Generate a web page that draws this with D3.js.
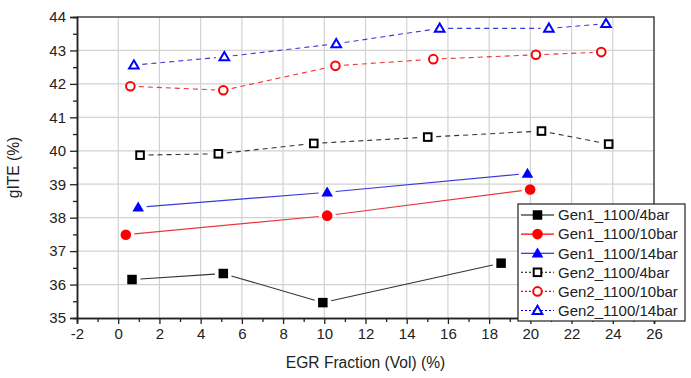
<!DOCTYPE html>
<html>
<head>
<meta charset="utf-8">
<script src="https://cdn.jsdelivr.net/npm/d3@7"></script>
<style>
  body { margin: 0; background: #fff; }
  svg { display: block; font-family: "Liberation Sans", Arial, sans-serif; }
</style>
</head>
<body>
<svg id="chart" width="691" height="378"></svg>
<script>
// data
const gen1_4_x  = [0.67, 5.1, 9.93, 18.58];
const gen1_4_y  = [36.15, 36.33, 35.46, 36.64];
const gen1_10_x = [0.37, 10.14, 19.99];
const gen1_10_y = [37.49, 38.06, 38.84];
const gen1_14_x = [0.97, 10.14, 19.86];
const gen1_14_y = [38.31, 38.76, 39.32];
const gen2_4_x  = [1.06, 4.86, 9.49, 15.02, 20.54, 23.8];
const gen2_4_y  = [39.87, 39.91, 40.22, 40.41, 40.59, 40.2];
const gen2_10_x = [0.59, 5.1, 10.54, 15.29, 20.27, 23.44];
const gen2_10_y = [41.93, 41.81, 42.54, 42.74, 42.87, 42.95];
const gen2_14_x = [0.76, 5.15, 10.58, 15.6, 20.9, 23.67];
const gen2_14_y = [42.56, 42.81, 43.2, 43.66, 43.66, 43.8];

const seriesNames = ['Gen1_1100/4bar','Gen1_1100/10bar','Gen1_1100/14bar',
                     'Gen2_1100/4bar','Gen2_1100/10bar','Gen2_1100/14bar'];
const xTicks = d3.range(-2, 27, 2);
const yTicks = d3.range(35, 45, 1);

const W = 691, H = 378;
const M = {left: 77, right: 654, top: 17, bottom: 318};

const series = [
  {name: seriesNames[0], xs: gen1_4_x,  ys: gen1_4_y,  color: '#000', line: '#333', shape: 'square',   fill: true,  dash: null},
  {name: seriesNames[1], xs: gen1_10_x, ys: gen1_10_y, color: '#f00', line: '#e8383c', shape: 'circle', fill: true,  dash: null},
  {name: seriesNames[2], xs: gen1_14_x, ys: gen1_14_y, color: '#00f', line: '#3a3ad8', shape: 'triangle', fill: true,  dash: null},
  {name: seriesNames[3], xs: gen2_4_x,  ys: gen2_4_y,  color: '#000', line: '#333', shape: 'square',   fill: false, dash: '5,4'},
  {name: seriesNames[4], xs: gen2_10_x, ys: gen2_10_y, color: '#f00', line: '#e8383c', shape: 'circle', fill: false, dash: '5,4'},
  {name: seriesNames[5], xs: gen2_14_x, ys: gen2_14_y, color: '#00f', line: '#3a3ad8', shape: 'triangle', fill: false, dash: '5,4'},
];

const svg = d3.select('#chart');
const x = d3.scaleLinear().domain([-2, 26]).range([M.left, M.right]);
const y = d3.scaleLinear().domain([35, 44]).range([M.bottom, M.top]);

// grid
const grid = svg.append('g').attr('stroke', '#d2d2d2').attr('stroke-width', 1.2);
grid.selectAll('line.gx').data(xTicks.filter(d => d > -2 && d < 26)).join('line')
  .attr('x1', d => x(d)).attr('x2', d => x(d)).attr('y1', M.top).attr('y2', M.bottom);
grid.selectAll('line.gy').data(yTicks.filter(d => d > 35 && d < 44)).join('line')
  .attr('y1', d => y(d)).attr('y2', d => y(d)).attr('x1', M.left).attr('x2', M.right);

// frame (top/right)
svg.append('path')
  .attr('d', `M${M.left},${M.top}H${M.right}V${M.bottom}`)
  .attr('fill', 'none').attr('stroke', '#444').attr('stroke-width', 1.5);

// axes (plain hyphen for negatives, like the original)
const fmt = d => String(d);
const xAxis = svg.append('g').attr('transform', `translate(0,${M.bottom})`)
  .call(d3.axisBottom(x).tickValues(xTicks).tickFormat(fmt).tickSize(6).tickPadding(4));
const xMinor = svg.append('g').attr('transform', `translate(0,${M.bottom})`)
  .call(d3.axisBottom(x).tickValues(d3.range(-1, 26, 2)).tickFormat('').tickSize(4));
const yAxis = svg.append('g').attr('transform', `translate(${M.left},0)`)
  .call(d3.axisLeft(y).tickValues(yTicks).tickFormat(fmt).tickSize(7).tickPadding(4));
const yMinor = svg.append('g').attr('transform', `translate(${M.left},0)`)
  .call(d3.axisLeft(y).tickValues(d3.range(35.5, 44, 1)).tickFormat('').tickSize(4));

[xAxis, xMinor, yAxis, yMinor].forEach(g => {
  g.select('.domain').attr('stroke', '#222').attr('stroke-width', 1.5);
  g.selectAll('.tick line').attr('stroke', '#222').attr('stroke-width', 1.3);
  g.selectAll('.tick text').attr('font-size', 15).attr('fill', '#222')
    .attr('font-family', '"Liberation Sans", Arial, sans-serif');
});

// axis titles
svg.append('text').attr('x', (M.left + M.right) / 2).attr('y', 368)
  .attr('text-anchor', 'middle').attr('font-size', 15.6).attr('fill', '#222')
  .text('EGR Fraction (Vol) (%)');
svg.append('text').attr('transform', `translate(19,${(M.top + M.bottom) / 2}) rotate(-90)`)
  .attr('text-anchor', 'middle').attr('font-size', 15.6).attr('fill', '#222')
  .text('gITE (%)');

// markers
function drawMarker(g, s, cx, cy) {
  const sw = s.fill ? 0 : 2;
  const fill = s.fill ? s.color : '#fff';
  if (s.shape === 'square') {
    const a = s.fill ? 9.5 : 7.6;
    g.append('rect').attr('x', cx - a / 2).attr('y', cy - a / 2).attr('width', a).attr('height', a)
      .attr('fill', fill).attr('stroke', s.color).attr('stroke-width', sw);
  } else if (s.shape === 'circle') {
    g.append('circle').attr('cx', cx).attr('cy', cy).attr('r', s.fill ? 5.3 : 4.3)
      .attr('fill', fill).attr('stroke', s.color).attr('stroke-width', sw);
  } else {
    const w = s.fill ? 5.8 : 4.8, t = s.fill ? 5.8 : 4.8, b = s.fill ? 4.2 : 3.4;
    g.append('path').attr('d', `M${cx},${cy - t}L${cx + w},${cy + b}L${cx - w},${cy + b}Z`)
      .attr('fill', fill).attr('stroke', s.color).attr('stroke-width', sw)
      .attr('stroke-linejoin', 'miter');
  }
}

// lines with a gap at every marker, like the original
const gap = 8.5;
series.forEach(s => {
  const g = svg.append('g');
  const pts = s.xs.map((v, i) => [x(v), y(s.ys[i])]);
  for (let i = 0; i < pts.length - 1; i++) {
    const [x1, y1] = pts[i], [x2, y2] = pts[i + 1];
    const L = Math.hypot(x2 - x1, y2 - y1);
    const ux = (x2 - x1) / L, uy = (y2 - y1) / L;
    g.append('line')
      .attr('x1', x1 + ux * gap).attr('y1', y1 + uy * gap)
      .attr('x2', x2 - ux * gap).attr('y2', y2 - uy * gap)
      .attr('stroke', s.line).attr('stroke-width', 1.1)
      .attr('stroke-dasharray', s.dash);
  }
  pts.forEach(p => drawMarker(g, s, p[0], p[1]));
});

// legend
const lg = svg.append('g').attr('transform', 'translate(518,204)');
lg.append('rect').attr('width', 167).attr('height', 117)
  .attr('fill', '#fff').attr('stroke', '#222').attr('stroke-width', 1.2);
series.forEach((s, i) => {
  const cy = 11 + i * 19.1;
  lg.append('line').attr('x1', 3).attr('x2', 36).attr('y1', cy).attr('y2', cy)
    .attr('stroke', s.color).attr('stroke-width', 1.1)
    .attr('stroke-dasharray', s.dash ? '2,2' : null);
  drawMarker(lg, s, 19.5, cy);
  lg.append('text').attr('x', 40).attr('y', cy + 5.3)
    .attr('font-size', 15).attr('fill', '#222').text(s.name);
});
</script>
</body>
</html>
